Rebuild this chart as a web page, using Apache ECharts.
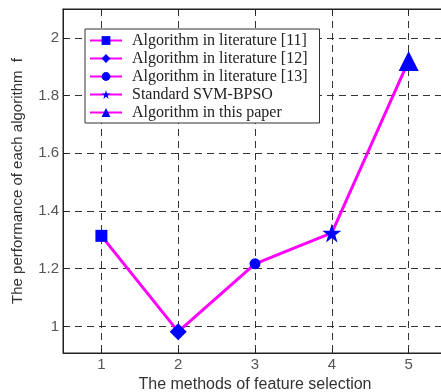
<!DOCTYPE html>
<html>
<head>
<meta charset="utf-8">
<script src="https://cdn.jsdelivr.net/npm/echarts@6/dist/echarts.min.js"></script>
<style>html,body{margin:0;padding:0;background:#fff}#c{width:441px;height:392px}</style>
</head>
<body>
<div id="c"></div>
<script>
var methods = [1, 2, 3, 4, 5];
var performance = [1.314, 0.982, 1.217, 1.324, 1.92];
var seriesNames = ['Algorithm in literature [11]', 'Algorithm in literature [12]', 'Algorithm in literature [13]', 'Standard SVM-BPSO', 'Algorithm in this paper'];
var xTitle = 'The methods of feature selection';
var yTitle = 'The performance of each algorithm  f';

var STAR = 'path://M50,0 L61,35 L98,35 L68,57 L79,91 L50,70 L21,91 L32,57 L2,35 L39,35 Z';
var symbols = ['rect', 'diamond', 'circle', STAR, 'triangle'];
var sizes = [12, 17, 11, 19, 20];

var chart = echarts.init(document.getElementById('c'));
var gridStyle = {show: true, lineStyle: {color: '#333', type: [7, 5], width: 1}};
var series = [{
  type: 'line',
  data: methods.map(function (m, i) { return [m, performance[i]]; }),
  showSymbol: false,
  lineStyle: {color: '#ff00ff', width: 3},
  itemStyle: {color: '#ff00ff'},
  z: 2,
  silent: true
}];
seriesNames.forEach(function (n, i) {
  series.push({
    type: 'line',
    name: n,
    data: [[methods[i], performance[i]]],
    symbol: symbols[i],
    symbolSize: sizes[i],
    showAllSymbol: true,
    lineStyle: {color: '#ff00ff', width: 3},
    itemStyle: {color: '#0000ff'},
    z: 3
  });
});

chart.setOption({
  animation: false,
  backgroundColor: '#fff',
  grid: {left: 63, top: 9, right: -6, bottom: 39, show: true, borderColor: '#222', borderWidth: 1, backgroundColor: '#fff', containLabel: false, outerBoundsMode: 'none'},
  legend: {
    data: seriesNames,
    orient: 'vertical',
    left: 85, top: 29,
    itemWidth: 32, itemHeight: 11, itemGap: 1,
    padding: [3, 12, 2, 4],
    backgroundColor: '#fff',
    borderColor: '#333', borderWidth: 1,
    textStyle: {fontFamily: 'Liberation Serif', fontSize: 16, lineHeight: 17, color: '#222', padding: [0, 0, 0, 5]}
  },
  xAxis: [{
    type: 'value', min: 0.5, max: 5.5, splitNumber: 5,
    name: xTitle, nameLocation: 'middle', nameGap: 22,
    nameTextStyle: {fontFamily: 'Liberation Sans', fontSize: 16, color: '#333'},
    axisLine: {show: true, lineStyle: {color: '#222'}},
    axisTick: {show: true, inside: true, length: 5, lineStyle: {color: '#222'}},
    axisLabel: {fontFamily: 'Liberation Sans', fontSize: 15, color: '#555', margin: 4,
      formatter: function (v) { return Math.abs(v - Math.round(v)) < 1e-6 ? String(Math.round(v)) : ''; }},
    splitLine: gridStyle
  }, {
    type: 'value', position: 'top', min: 0.5, max: 5.5, splitNumber: 5,
    axisLine: {show: true, lineStyle: {color: '#222'}},
    axisTick: {show: true, inside: true, length: 5, lineStyle: {color: '#222'}},
    axisLabel: {show: false}, splitLine: {show: false}
  }],
  yAxis: {
    type: 'value', min: 0.908, max: 2.1, splitNumber: 6,
    name: yTitle, nameLocation: 'middle', nameGap: 38, nameRotate: 90,
    nameTextStyle: {fontFamily: 'Liberation Sans', fontSize: 15, color: '#333'},
    axisLine: {show: true, lineStyle: {color: '#222'}},
    axisTick: {show: true, inside: true, length: 5, lineStyle: {color: '#222'}},
    axisLabel: {fontFamily: 'Liberation Sans', fontSize: 15, color: '#555', margin: 4,
      formatter: function (v) {
        var r = Math.round(v * 10) / 10;
        if (Math.abs(v - r) > 1e-6) return '';
        if (Math.abs(r * 5 - Math.round(r * 5)) > 1e-6) return '';
        return String(r);
      }},
    splitLine: gridStyle
  },
  series: series
});
</script>
</body>
</html>
